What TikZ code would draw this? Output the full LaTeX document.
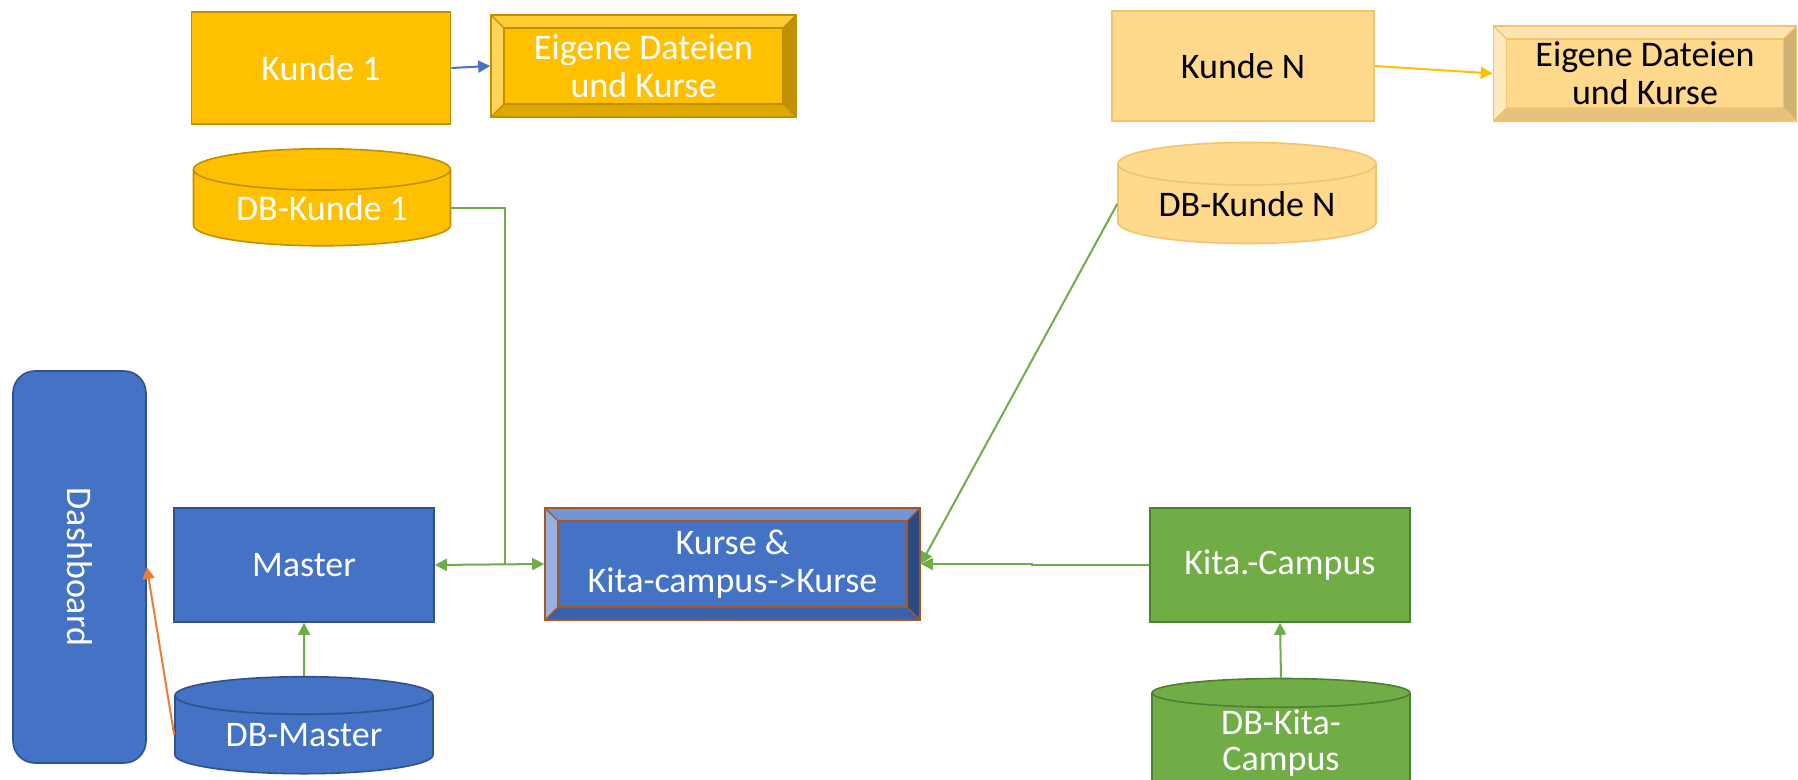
\documentclass[tikz,border=0pt]{standalone}
\usepackage{fontspec}
\setmainfont{Carlito}
\usetikzlibrary{arrows.meta, shapes.geometric, calc}
\definecolor{gold}{HTML}{FFC000}
\definecolor{goldline}{HTML}{BF9000}
\definecolor{lgold}{HTML}{FFD98C}
\definecolor{lgoldline}{HTML}{F2C46E}
\definecolor{blue1}{HTML}{4472C4}
\definecolor{blueline}{HTML}{2F528F}
\definecolor{green1}{HTML}{70AD47}
\definecolor{greenline}{HTML}{507E32}
\definecolor{orange1}{HTML}{ED7D31}
\tikzset{>={Triangle[length=6pt,width=6pt]}}
\tikzset{
  box/.style={rectangle, draw=#1, line width=0.8pt},
  db/.style={cylinder, shape border rotate=90, aspect=0.24, draw=#1, line width=0.8pt},
  gline/.style={green1, line width=1pt},
  % bevel: top, left, right, bottom, edge colour
  bevel/.style n args={5}{path picture={
    \coordinate (ppnw) at (path picture bounding box.north west);
    \coordinate (ppne) at (path picture bounding box.north east);
    \coordinate (ppsw) at (path picture bounding box.south west);
    \coordinate (ppse) at (path picture bounding box.south east);
    \fill[#1] (ppnw) -- (ppne) -- ($(ppne)+(-6.5pt,-6.5pt)$) -- ($(ppnw)+(6.5pt,-6.5pt)$) -- cycle;
    \fill[#2] (ppnw) -- ($(ppnw)+(6.5pt,-6.5pt)$) -- ($(ppsw)+(6.5pt,6.5pt)$) -- (ppsw) -- cycle;
    \fill[#3] (ppne) -- (ppse) -- ($(ppse)+(-6.5pt,6.5pt)$) -- ($(ppne)+(-6.5pt,-6.5pt)$) -- cycle;
    \fill[#4] (ppsw) -- (ppse) -- ($(ppse)+(-6.5pt,6.5pt)$) -- ($(ppsw)+(6.5pt,6.5pt)$) -- cycle;
    \draw[#5, line width=0.6pt] ($(ppnw)+(6.5pt,-6.5pt)$) rectangle ($(ppse)+(-6.5pt,6.5pt)$);
    \draw[#5, line width=0.6pt] (ppnw) -- ++(6.5pt,-6.5pt) (ppne) -- ++(-6.5pt,-6.5pt)
      (ppsw) -- ++(6.5pt,6.5pt) (ppse) -- ++(-6.5pt,6.5pt);
  }}
}

\begin{document}
\begin{tikzpicture}[x=0.5pt, y=-0.5pt,
  every node/.style={font=\fontsize{18pt}{19pt}\selectfont, align=center, inner sep=0pt}]
\useasboundingbox (0,0) rectangle (1798,780);
\fill[white] (0,0) rectangle (1798,780);

% Kunde 1
\node (k1) at (321,68) [box=goldline, fill=gold, text=white, minimum width=129.5pt, minimum height=56pt] {Kunde 1};
\node (e1) at (643.5,66) [box=goldline, fill=gold, text=white, minimum width=152.5pt, minimum height=51pt,
  bevel={gold!80!white}{gold!65!white}{goldline}{gold!88!black}{goldline}] {Eigene Dateien\\und Kurse};
\node (dbk1) at (322,208) [db=goldline, fill=gold, text=white, minimum width=128.5pt, minimum height=48.5pt] {\raisebox{-5pt}{DB-Kunde 1}};

% Kunde N
\node (kN) at (1243,66) [box=lgoldline, fill=lgold, minimum width=131pt, minimum height=55pt] {Kunde N};
\node (eN) at (1645,73.5) [box=lgoldline, fill=lgold, minimum width=151.5pt, minimum height=47.5pt,
  bevel={lgold!70!white}{lgold!55!white}{lgold!82!black}{lgold!90!black}{lgoldline}] {Eigene Dateien\\und Kurse};
\node (dbkN) at (1247,204) [db=lgoldline, fill=lgold, minimum width=129pt, minimum height=50.5pt] {\raisebox{-5pt}{DB-Kunde N}};

% Master
\node (dash) at (79.5,567) [box=blueline, fill=blue1, text=white, rounded corners=11pt, minimum width=66.5pt, minimum height=196pt] {\rotatebox{-90}{Dashboard}};
\node (master) at (304,565) [box=blueline, fill=blue1, text=white, minimum width=130pt, minimum height=57pt] {Master};
\node (dbm) at (304,735) [db=blueline, fill=blue1, text=white, minimum width=129pt, minimum height=48.5pt] {\raisebox{-4pt}{DB-Master}};
\node (kurse) at (732.5,564) [box=orange1!70!black, fill=blue1, text=white, minimum width=187.5pt, minimum height=56pt,
  bevel={blue1!75!white}{blue1!55!white}{blueline!90!black}{blue1!85!black}{orange1!70!black}] {Kurse \&\\Kita-campus->Kurse};

% Kita-Campus
\node (kita) at (1280,565) [box=greenline, fill=green1, text=white, minimum width=130pt, minimum height=57pt] {Kita.-Campus};
\node (dbkc) at (1281,745) [db=greenline, fill=green1, text=white, minimum width=129pt, minimum height=43.5pt] {\raisebox{-6pt}{\begin{tabular}{@{}c@{}}DB-Kita-\\[-1pt]Campus\end{tabular}}};

% Verbindungen
\coordinate (j1) at (505,564);
\draw[->, blue1, line width=1pt] (k1.east) -- (e1.west);
\draw[->, gold, line width=1pt] (kN.east) -- (eN.west);
\draw[gline] (dbk1.east) -| (j1);
\draw[gline, <->] (master.east) -- (kurse.west);
\draw[gline, ->] (dbkN.west) -- (kurse.east);
\draw[gline, ->] (kita.west) -- ++(-117,0) |- (kurse.east);
\draw[gline, ->] (dbm.north) -- (master.south);
\draw[gline, ->] (dbkc.north) -- (kita.south);
\draw[->, orange1, line width=1pt] (dbm.west) -- (dash.east);
\end{tikzpicture}
\end{document}
